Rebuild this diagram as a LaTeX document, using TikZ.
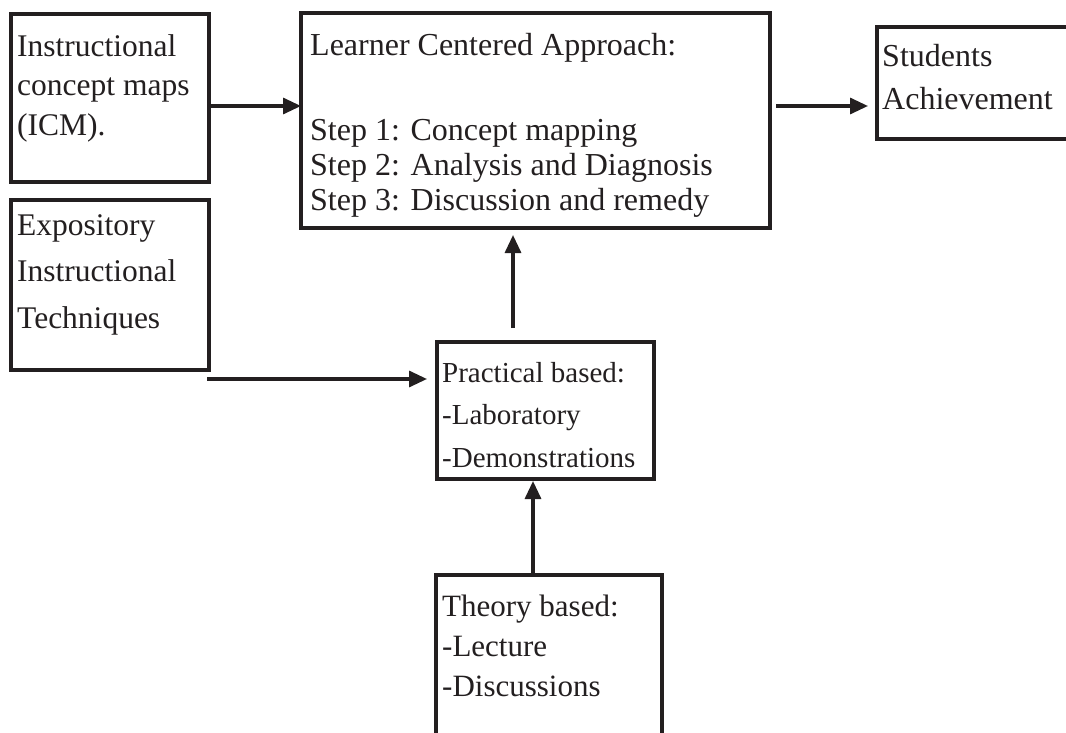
\documentclass[tikz,border=0pt]{standalone}
\usepackage{fontspec}
\setmainfont{Liberation Serif}
\usetikzlibrary{arrows.meta}
\definecolor{ink}{RGB}{35,31,32}
\begin{document}
\begin{tikzpicture}[x=1pt,y=-1pt,
  box/.style={draw=ink, line width=4pt, anchor=north west, inner sep=0pt, outer sep=0pt},
  txt/.style={anchor=base west, inner sep=0pt, align=left, text=ink},
  arr/.style={draw=ink, line width=3.2pt, -{Triangle[length=18pt,width=16pt]}}]
\useasboundingbox (0,0) rectangle (1066,733);
\clip (0,0) rectangle (1066,733);
\fill[white] (0,0) rectangle (1066,733);

% boxes
\node[box, minimum width=198pt, minimum height=168pt] (icm) at (11,14) {};
\node[box, minimum width=198pt, minimum height=170pt] (exp) at (11,200) {};
\node[box, minimum width=468.5pt, minimum height=214.5pt] (lca) at (301,13.5) {};
\node[box, minimum width=200pt, minimum height=112.5pt] (stu) at (877,27) {};
\node[box, minimum width=217pt, minimum height=137pt] (prac) at (437,341.5) {};
\node[box, minimum width=226pt, minimum height=190pt] (theo) at (436,575) {};

% texts (base anchor = baseline of the last line)
\node[txt, font=\fontsize{31.5}{40}\selectfont] (icmt) at (17,136) {Instructional\\concept maps\\(ICM).};
\node[txt, font=\fontsize{31.5}{46.5}\selectfont] (expt) at (17,328) {Expository\\Instructional\\Techniques};
\node[txt, font=\fontsize{32}{35}\selectfont] (lcat) at (310,210) {Learner Centered Approach:\\[50pt]Step 1: Concept mapping\\Step 2: Analysis and Diagnosis\\Step 3: Discussion and remedy};
\node[txt, font=\fontsize{32}{43}\selectfont] (stut) at (882,110) {Students\\Achievement};
\node[txt, font=\fontsize{29}{42.5}\selectfont] (pract) at (442,467) {Practical based:\\-Laboratory\\-Demonstrations};
\node[txt, font=\fontsize{31}{40}\selectfont] (theot) at (442,696) {Theory based:\\-Lecture\\-Discussions};

% helper coordinates
\coordinate (r1) at (0,106);
\coordinate (expout) at (207,379);
\coordinate (pu) at (513,0);
\coordinate (tu) at (533,0);

% connectors
\draw[arr] (icm.east |- r1) -- (lca.west |- r1);
\draw[arr, shorten <=6.5pt, shorten >=9pt] (lca.east |- r1) -- (stu.west |- r1);
\draw[arr, shorten >=10pt] (expout) -- (prac.west |- expout);
\draw[arr, shorten <=13.5pt, shorten >=7pt] (prac.north -| pu) -- (lca.south -| pu);
\draw[arr, shorten >=2.5pt] (theo.north -| tu) -- (prac.south -| tu);
\end{tikzpicture}
\end{document}
